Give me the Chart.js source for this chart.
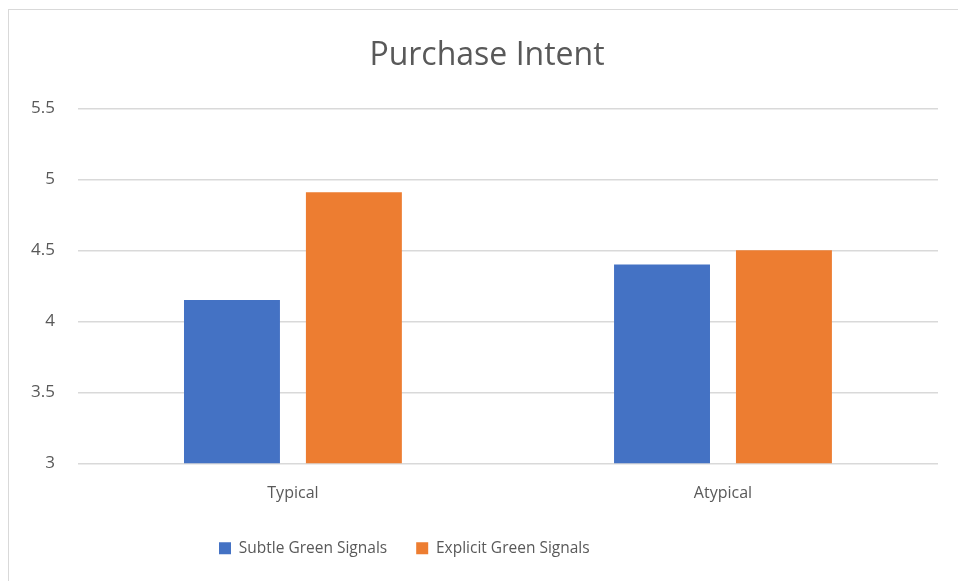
<!DOCTYPE html>
<html>
<head>
<meta charset="utf-8">
<script src="https://cdn.jsdelivr.net/npm/chart.js@4.4.0/dist/chart.umd.min.js"></script>
<style>
  html, body { margin: 0; padding: 0; background: #fff; }
  #frame {
    position: absolute; left: 8px; top: 9px; width: 1000px; height: 620px;
    border-top: 1px solid #d9d9d9; border-left: 1px solid #d9d9d9;
  }
  #wrap { position: absolute; left: 0; top: 0; width: 958px; height: 581px; }
</style>
</head>
<body>
<div id="frame"></div>
<div id="wrap"><canvas id="intentChart"></canvas></div>
<script>
const categories = ["Typical", "Atypical"];
const subtleValues = [4.15, 4.4];
const explicitValues = [4.91, 4.5];
const yTicks = [3, 3.5, 4, 4.5, 5, 5.5];

const textColor = "#595959";
const fontFamily = "'Open Sans', 'Noto Sans', sans-serif";

// the legend sits left of centre in the original, a bit higher too;
// the title sits a little right of centre
const nudgeBoxes = {
  id: "nudgeBoxes",
  beforeDraw(chart) {
    chart.legend.left = 190;
    chart.legend.top -= 5;
    chart.titleBlock.left += 28;
  },
};

const ctx = document.getElementById("intentChart").getContext("2d");

const intentChart = new Chart(ctx, {
  type: "bar",
  data: {
    labels: categories,
    datasets: [
      {
        label: "Subtle Green Signals",
        data: subtleValues,
        backgroundColor: "#4472c4",
        categoryPercentage: 0.567,
        barPercentage: 0.787,
      },
      {
        label: "Explicit Green Signals",
        data: explicitValues,
        backgroundColor: "#ed7d31",
        categoryPercentage: 0.567,
        barPercentage: 0.787,
      },
    ],
  },
  options: {
    responsive: true,
    maintainAspectRatio: false,
    animation: false,
    layout: {
      padding: { left: 8, right: 20, top: 37, bottom: 10 },
    },
    plugins: {
      title: {
        display: true,
        text: "Purchase Intent",
        color: textColor,
        font: { family: fontFamily, size: 32, weight: "normal" },
        padding: { top: 0, bottom: 33 },
      },
      legend: {
        position: "bottom",
        align: "start",
        labels: {
          color: textColor,
          font: { family: fontFamily, size: 15.5 },
          boxWidth: 12,
          boxHeight: 12,
          padding: 29,
        },
      },
      tooltip: { enabled: false },
    },
    scales: {
      x: {
        grid: { display: false },
        border: { display: false },
        ticks: {
          color: textColor,
          font: { family: fontFamily, size: 16 },
          padding: 13,
        },
      },
      y: {
        min: 3,
        max: 5.5,
        afterBuildTicks: (scale) => {
          scale.ticks = yTicks.map((v) => ({ value: v }));
        },
        grid: { color: "#d9d9d9", lineWidth: 1.5, drawTicks: false },
        border: { display: false },
        ticks: {
          color: textColor,
          font: { family: fontFamily, size: 17 },
          padding: 23,
          callback: (value) => String(value),
        },
      },
    },
  },
  plugins: [nudgeBoxes],
});
</script>
</body>
</html>
